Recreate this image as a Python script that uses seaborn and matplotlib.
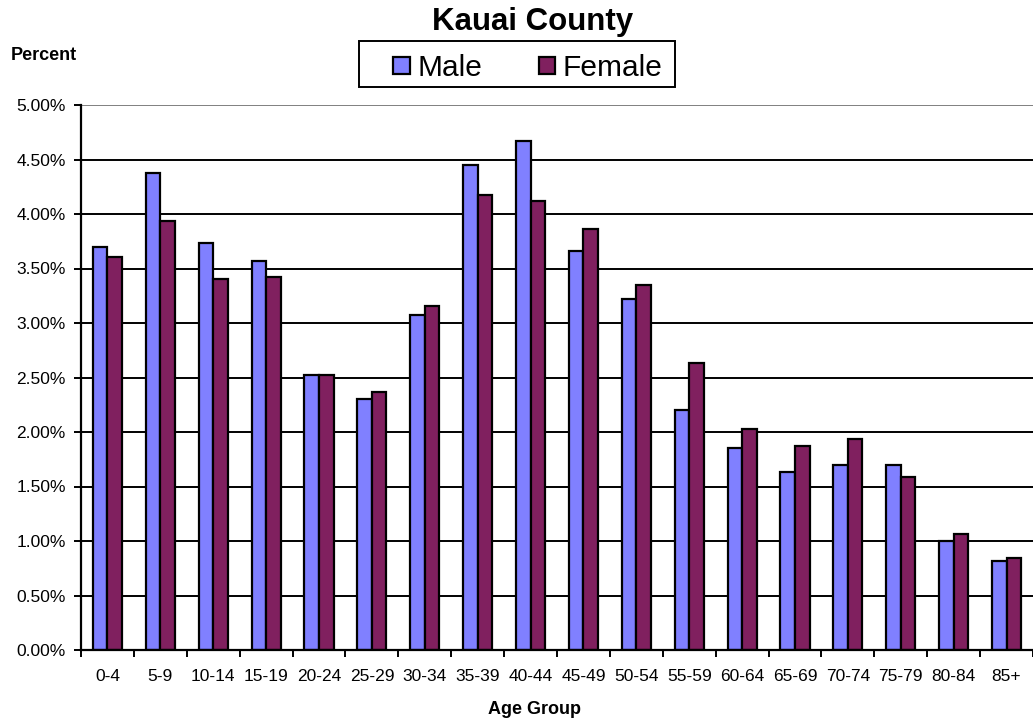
import matplotlib
matplotlib.use("Agg")
import matplotlib.pyplot as plt
from matplotlib.patches import Rectangle
import numpy as np
import pandas as pd
import seaborn as sns

# Age groups and percent of population by sex
age_groups = ["0-4", "5-9", "10-14", "15-19", "20-24", "25-29", "30-34", "35-39", "40-44",
              "45-49", "50-54", "55-59", "60-64", "65-69", "70-74", "75-79", "80-84", "85+"]
male = [3.70, 4.38, 3.73, 3.57, 2.52, 2.30, 3.07, 4.45, 4.67,
        3.66, 3.22, 2.20, 1.85, 1.63, 1.70, 1.70, 1.00, 0.82]
female = [3.61, 3.94, 3.40, 3.42, 2.52, 2.37, 3.16, 4.17, 4.12,
          3.86, 3.35, 2.63, 2.03, 1.87, 1.94, 1.59, 1.06, 0.84]
y_ticks = np.arange(0, 5.01, 0.5)

df = pd.DataFrame({
    "age": age_groups * 2,
    "pct": male + female,
    "sex": ["Male"] * len(male) + ["Female"] * len(female),
})

sns.set_style("white")
plt.rcParams["font.family"] = ["Liberation Sans", "DejaVu Sans"]
plt.rcParams["text.color"] = "black"
plt.rcParams["xtick.color"] = "black"
plt.rcParams["ytick.color"] = "black"

fig = plt.figure(figsize=(10.33, 7.21), dpi=100)
ax = fig.add_axes([81 / 1033, 1 - 650 / 721, 1 - 81 / 1033, (650 - 105) / 721])

sns.barplot(data=df, x="age", y="pct", hue="sex", order=age_groups,
            palette=["#8080FF", "#80205F"], saturation=1, width=0.55,
            edgecolor="black", linewidth=1.6, ax=ax)

ax.set_xlim(-0.5, len(age_groups) - 0.5)
ax.set_ylim(0, 5.0)
ax.set_yticks(y_ticks)
ax.set_yticklabels([f"{v:.2f}%" for v in y_ticks])
ax.set_axisbelow(True)
ax.yaxis.grid(True, color="black", lw=1.4)
ax.get_ygridlines()[-1].set_color("#808080")

# ticks on x between categories, labels centered
ax.set_xticks(np.arange(len(age_groups)))
ax.set_xticklabels(age_groups)
ax.set_xticks(np.arange(len(age_groups) + 1) - 0.5, minor=True)
ax.tick_params(axis="x", which="major", bottom=True, length=0, pad=14, labelsize=12.5)
ax.tick_params(axis="x", which="minor", bottom=True, length=5, width=1.4, color="black", direction="out")
ax.tick_params(axis="y", left=True, length=5, width=1.4, color="black", direction="out", pad=6, labelsize=12.5)

for s in ["top", "right"]:
    ax.spines[s].set_visible(False)
for s in ["left", "bottom"]:
    ax.spines[s].set_color("black")
    ax.spines[s].set_linewidth(1.6)

ax.set_xlabel("")
ax.set_ylabel("")

fig.text(533 / 1033, 1 - 22 / 721, "Kauai County", ha="center", va="center",
         fontsize=22.5, fontweight="bold")
fig.text(11 / 1033, 1 - 56 / 721, "Percent", ha="left", va="center",
         fontsize=13, fontweight="bold")
fig.text(535 / 1033, 1 - 709 / 721, "Age Group", ha="center", va="center",
         fontsize=13, fontweight="bold")

# legend
handles, labels = ax.get_legend_handles_labels()
if ax.legend_:
    ax.legend_.remove()
leg = fig.legend(handles, labels, loc="center", bbox_to_anchor=(528 / 1033, 1 - 68 / 721),
                 ncol=2, frameon=False, fontsize=21.5, handlelength=0.55, handleheight=0.5,
                 handletextpad=0.25, columnspacing=1.9, borderpad=0)
fig.patches.append(Rectangle((359 / 1033, 1 - 87 / 721), (675 - 359) / 1033, 46 / 721,
                             transform=fig.transFigure, fill=False, edgecolor="black", lw=1.4))

fig.savefig("out.png", dpi=100)
